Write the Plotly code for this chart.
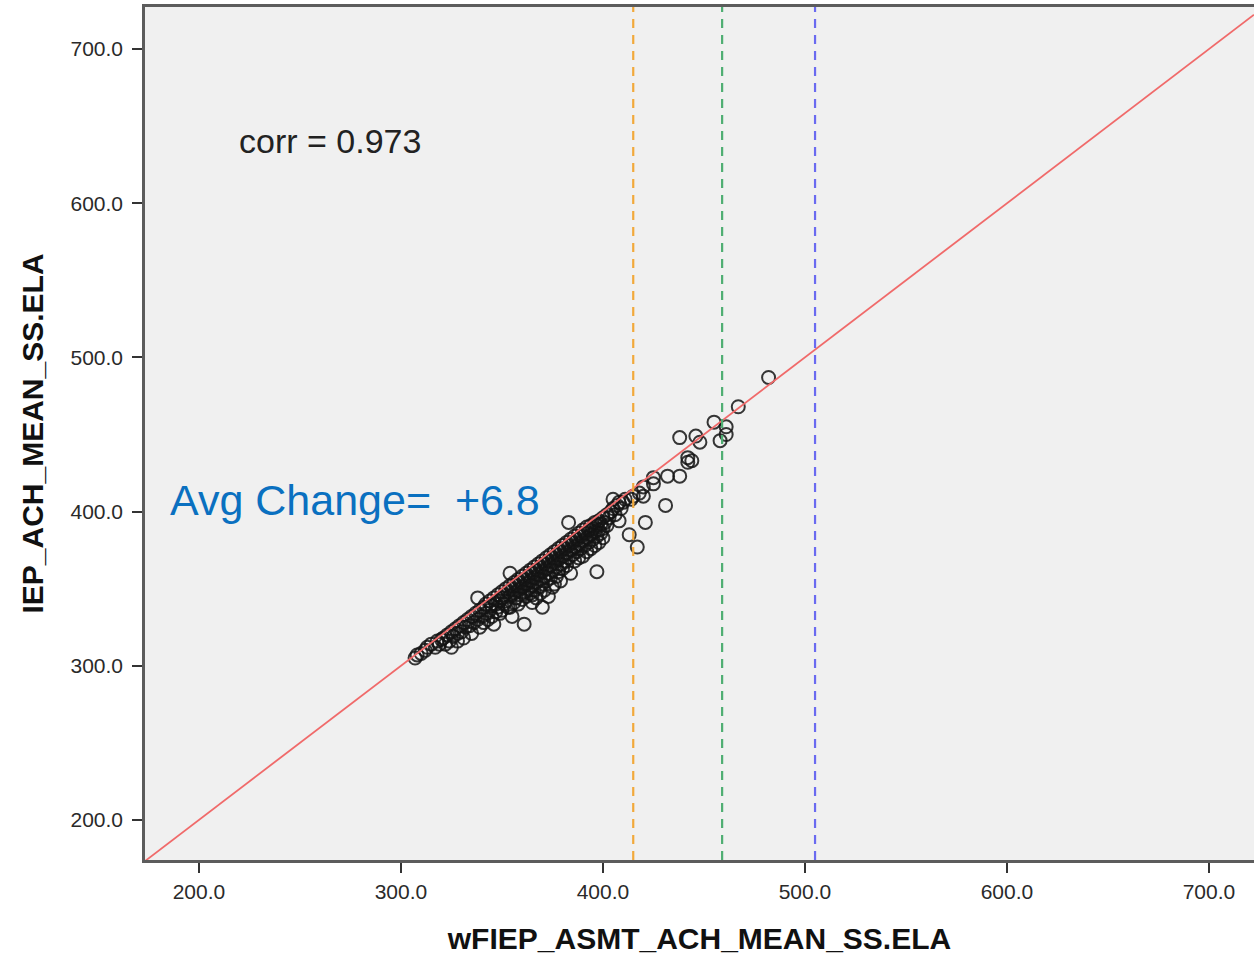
import plotly.graph_objects as go

# Scores per unit: weighted FIEP assessment mean (x) vs IEP achievement mean (y)
x_vals = [
    307, 308, 310, 312, 313, 315, 317, 318, 319, 320,
    321, 322, 323, 324, 325, 325, 326, 327, 328, 328, 329, 330, 331, 331, 332, 333,
    334, 335, 335, 336, 337, 338, 338, 339, 339, 340,
    341, 341, 342, 342, 343, 344, 344, 345, 345, 346, 346, 347, 347, 348, 348, 349,
    349, 350, 350, 350, 351, 351, 352, 352, 353, 353, 354, 354, 354, 354, 355, 355,
    356, 356, 356, 357, 357, 358, 358, 358, 359, 359, 360, 360, 360,
    361, 361, 361, 362, 362, 362, 363, 363, 364, 364, 364, 365, 365, 365, 365, 366,
    366, 366, 367, 367, 367, 368, 368, 368, 369, 369, 369, 370, 370, 370, 370, 371,
    371, 371, 372, 372, 372, 373, 373, 373, 374, 374, 374, 375, 375, 375, 376, 376,
    376, 377, 377, 377, 378, 378, 378, 379, 379, 379, 380, 380, 380,
    381, 381, 382, 382, 382, 383, 383, 383, 384, 384, 384, 385, 385, 386, 386, 386,
    387, 387, 388, 388, 388, 389, 389, 390, 390, 390, 391, 391, 392, 392, 392, 393,
    393, 394, 394, 394, 395, 395, 396, 396, 396, 397, 397, 397, 398, 398, 398, 399,
    399, 400, 400, 400,
    401, 402, 402, 403, 404, 405, 405, 406, 407, 408, 408, 409, 410, 411, 413, 414,
    415, 417, 418, 420, 420, 421,
    425, 425, 431, 432, 438, 442, 442, 444, 438, 446, 448, 455, 458, 461, 461, 467,
    482,
]
y_vals = [
    305, 307, 308, 310, 312, 314, 312, 316, 314, 317,
    318, 314, 320, 316, 322, 312, 319, 324, 321, 316, 326, 322, 328, 318, 325, 330,
    326, 321, 332, 328, 334, 344, 330, 325, 336, 332,
    338, 328, 334, 340, 330, 342, 336, 339, 332, 344, 327, 340, 335, 346, 338, 342,
    334, 348, 344, 336, 346, 340, 350, 342, 348, 338, 360, 352, 345, 338, 350, 332,
    354, 347, 341, 352, 344, 356, 349, 340, 354, 346, 358, 351, 343,
    356, 348, 327, 360, 353, 345, 358, 350, 362, 355, 347, 360, 352, 341, 346, 364,
    357, 349, 362, 354, 344, 366, 359, 351, 364, 356, 347, 368, 361, 353, 338, 366,
    358, 349, 370, 363, 355, 368, 360, 345, 372, 365, 357, 370, 362, 351, 374, 367,
    353, 372, 364, 358, 376, 369, 361, 374, 366, 355, 378, 371, 363,
    376, 368, 380, 373, 365, 393, 378, 370, 382, 375, 360, 380, 372, 384, 377, 368,
    382, 374, 386, 379, 370, 384, 376, 388, 381, 371, 386, 378, 390, 383, 374, 388,
    380, 391, 385, 376, 389, 382, 393, 387, 378, 391, 384, 361, 394, 388, 380, 392,
    386, 396, 389, 383,
    393, 398, 391, 396, 400, 408, 402, 398, 404, 394, 406, 402, 406, 408, 385, 408,
    410, 377, 412, 410, 416, 393,
    422, 418, 404, 423, 423, 435, 432, 433, 448, 449, 445, 458, 446, 455, 450, 468,
    487,
]

# Reference cut scores shown as dashed verticals
cut_scores = [415, 459, 505]
cut_colors = ["#f2a93b", "#4fae72", "#6a6af0"]

tick_values = [200, 300, 400, 500, 600, 700]
tick_labels = ["200.0", "300.0", "400.0", "500.0", "600.0", "700.0"]

x_range = [173.3, 722.3]
y_range = [174.0, 727.3]

corr_text = "corr = 0.973"
change_text = "Avg Change=\u00a0\u00a0+6.8"

fig = go.Figure()

fig.add_trace(go.Scatter(
    x=x_vals, y=y_vals, mode="markers",
    marker=dict(symbol="circle-open", size=13, color="rgba(20,20,20,0.85)",
                line=dict(width=2)),
    showlegend=False, hoverinfo="x+y",
))

# identity line y = x
fig.add_trace(go.Scatter(
    x=[x_range[0], x_range[1]], y=[x_range[0], x_range[1]], mode="lines",
    line=dict(color="#f06a6a", width=1.8), showlegend=False, hoverinfo="skip",
))

for xv, col in zip(cut_scores, cut_colors):
    fig.add_shape(type="line", xref="x", yref="paper", x0=xv, x1=xv, y0=0, y1=1,
                  line=dict(color=col, width=2.2, dash="9px,7px"), layer="above")

axis_font = dict(family="Liberation Sans, Arial, sans-serif", size=21, color="#2a2a2a")
title_font = dict(family="Liberation Sans, Arial, sans-serif", size=30, color="#111111")

fig.update_xaxes(
    range=x_range, tickvals=tick_values, ticktext=tick_labels,
    ticks="outside", ticklen=10, tickwidth=2, tickcolor="#333333",
    tickfont=axis_font, ticklabelstandoff=1,
    showline=True, linecolor="#5c5c5c", linewidth=2.5, mirror=True,
    showgrid=False, zeroline=False,
    title=dict(text="<b>wFIEP_ASMT_ACH_MEAN_SS.ELA</b>", font=title_font, standoff=27),
)
fig.update_yaxes(
    range=y_range, tickvals=tick_values, ticktext=tick_labels,
    ticks="outside", ticklen=10, tickwidth=2, tickcolor="#333333",
    tickfont=axis_font, ticklabelstandoff=5,
    showline=True, linecolor="#5c5c5c", linewidth=2.5, mirror=False,
    showgrid=False, zeroline=False,
    title=dict(text="<b>IEP_ACH_MEAN_SS.ELA</b>", font=title_font, standoff=18),
)

fig.add_annotation(x=218.8, y=640.3, xref="x", yref="y", text=corr_text,
                   showarrow=False, xanchor="left", yanchor="middle",
                   font=dict(family="Liberation Sans, Arial, sans-serif", size=34, color="#222222"))
fig.add_annotation(x=184.7, y=407.8, xref="x", yref="y", text=change_text,
                   showarrow=False, xanchor="left", yanchor="middle",
                   font=dict(family="Liberation Sans, Arial, sans-serif", size=43, color="#0a70c0"))

fig.update_layout(
    width=1254, height=958,
    margin=dict(l=145, r=0, t=7, b=98),
    paper_bgcolor="white", plot_bgcolor="#f0f0f0",
)

fig.write_html("out.html")
